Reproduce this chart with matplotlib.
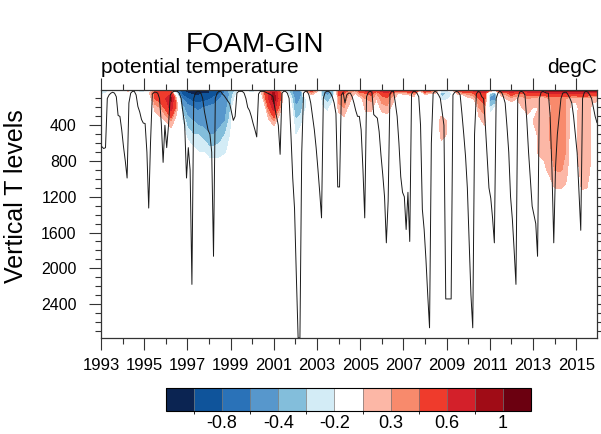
import numpy as np
import matplotlib
matplotlib.use("Agg")
import matplotlib.pyplot as plt
from matplotlib.colors import ListedColormap, BoundaryNorm
from matplotlib.ticker import MultipleLocator, FixedLocator

plt.rcParams['font.family'] = ['Liberation Sans', 'DejaVu Sans']

# ---------------- data ----------------
# monthly mixed-layer depth (m), Jan..Dec per line
mld_1990s = [
    640, 660, 650, 100, 60, 40, 30, 40, 80, 290, 300, 450,      # 1993
    640, 800, 990, 150, 40, 20, 20, 60, 190, 250, 335, 375,     # 1994
    380, 700, 1326, 600, 50, 30, 30, 40, 100, 380, 815, 400,    # 1995
    650, 400, 60, 30, 20, 20, 20, 40, 100, 250, 400, 990,       # 1996
    650, 900, 2180, 100, 40, 20, 20, 40, 100, 250, 350, 455,    # 1997
    500, 700, 1866, 100, 40, 20, 20, 50, 70, 100, 130, 160,     # 1998
    250, 345, 300, 40, 20, 20, 20, 40, 100, 200, 235, 300,      # 1999
]
mld_2000s = [
    380, 450, 530, 50, 20, 20, 20, 30, 40, 50, 60, 78,          # 2000
    200, 300, 400, 725, 40, 20, 20, 40, 100, 500, 990, 1330,    # 2001
    2080, 2780, 2780, 710, 40, 20, 20, 60, 150, 300, 450, 650,  # 2002
    890, 1150, 1436, 100, 30, 20, 20, 40, 80, 150, 270, 1090,   # 2003
    1090, 60, 30, 150, 60, 40, 40, 80, 150, 235, 300, 300,      # 2004
    450, 890, 1436, 80, 30, 20, 30, 280, 300, 320, 470, 730,    # 2005
    950, 1200, 1715, 1250, 50, 20, 20, 150, 300, 600, 975, 1150,  # 2006
    1200, 1566, 1150, 1700, 50, 20, 20, 40, 80, 400, 1340, 1566,  # 2007
    1900, 2300, 2666, 600, 40, 20, 30, 60, 100, 250, 400, 2343,   # 2008
    2343, 2343, 2343, 60, 30, 20, 30, 60, 270, 500, 750, 1100,    # 2009
]
mld_2010s = [
    1700, 2300, 2666, 500, 50, 20, 30, 80, 100, 400, 750, 1100,   # 2010
    1215, 1436, 1715, 100, 40, 20, 30, 80, 150, 410, 700, 1200,   # 2011
    1450, 1800, 2180, 100, 30, 20, 30, 60, 335, 700, 1000, 1305,  # 2012
    1400, 1500, 1866, 100, 30, 20, 30, 40, 40, 300, 900, 1715,    # 2013
    860, 500, 300, 100, 40, 30, 30, 60, 100, 150, 300, 500,       # 2014
    710, 1155, 1575, 100, 30, 20, 30, 60, 100, 200, 300, 370,     # 2015
]

# potential temperature anomaly (degC) at quarterly steps 1993.0 .. 2016.0
# (each line = 3 years, 4 values per year)
anom_depths = [5, 40, 100, 200, 350, 500, 700, 900, 1100, 1300]
anom_d5 = [-0.30, -0.25, -0.10, -0.25, -0.20, 0.35, -0.25, -0.30, -0.30, 0.10, 0.35, 0.50,
           0.30, 0.20, -0.50, -1.00, -1.10, -1.10, -1.10, -1.05, -1.00, -0.95, -0.90, -0.50,
           -0.30, -0.30, -0.10, -0.25, -0.30, -0.20, 0.25, 0.50, 0.60, 0.30, -0.20, -0.35,
           -0.45, -0.40, 0.30, 0.50, 0.30, -0.35, -0.40, -0.30, 0.50, 0.70, 0.35, 0.30,
           0.60, 0.70, 0.80, 0.50, 0.80, 0.90, 0.70, 0.50, 0.50, 0.70, 0.80, 0.30,
           0.60, 0.50, 0.40, -0.20, -0.20, 0.20, 0.50, 0.60, 0.60, 0.70, 0.80, 0.80,
           0.50, 0.30, 0.70, 0.80, 0.90, 0.80, 0.70, 0.80, 0.90, 0.90, 0.90, 1.00,
           1.00, 1.00, 1.00, 1.10, 1.10, 1.10, 1.10, 1.00, 1.00]
anom_d40 = [-0.25, -0.20, 0.0, -0.10, 0.0, 0.10, -0.10, -0.15, -0.20, 0.20, 0.45, 0.55,
            0.50, 0.55, -0.30, -0.90, -1.00, -1.05, -1.05, -1.00, -1.00, -0.90, -0.85, -0.55,
            -0.35, -0.25, 0.0, -0.15, -0.20, -0.10, 0.30, 0.60, 0.85, 0.50, -0.10, -0.30,
            -0.50, -0.45, 0.10, 0.30, 0.10, -0.40, -0.45, -0.35, 0.45, 0.40, 0.30, 0.20,
            0.35, 0.40, 0.45, 0.30, 0.45, 0.50, 0.35, 0.20, 0.25, 0.30, 0.35, -0.10,
            0.30, 0.20, 0.20, -0.35, -0.30, -0.20, 0.25, 0.30, 0.35, 0.40, 0.50, 0.55,
            -0.30, -0.40, 0.30, 0.35, 0.50, 0.40, 0.40, 0.50, 0.50, 0.50, 0.50, 0.60,
            0.60, 0.60, 0.60, 0.60, 0.60, 0.60, 0.60, 0.50, 0.50]
anom_d100 = [-0.10, 0.0, 0.0, 0.0, 0.0, 0.0, 0.0, 0.0, 0.0, 0.10, 0.40, 0.50,
             0.60, 0.85, 0.20, -0.60, -0.80, -0.90, -0.95, -0.90, -0.85, -0.75, -0.60, -0.50,
             -0.35, -0.15, 0.0, 0.0, -0.10, 0.0, 0.20, 0.60, 0.95, 0.50, 0.0, -0.20,
             -0.45, -0.40, -0.20, 0.0, 0.0, -0.30, -0.35, -0.25, 0.35, 0.35, 0.25, 0.10,
             0.15, 0.30, 0.32, 0.20, 0.35, 0.38, 0.25, 0.10, 0.0, 0.0, 0.10, 0.0,
             0.0, 0.0, 0.0, -0.30, -0.25, -0.15, 0.0, 0.0, 0.15, 0.20, 0.40, 0.50,
             -0.45, -0.45, 0.10, 0.20, 0.25, 0.20, 0.25, 0.30, 0.25, 0.22, 0.22, 0.30,
             0.32, 0.32, 0.30, 0.22, 0.22, 0.25, 0.25, 0.22, 0.22]
anom_d200 = [0.0, 0.0, 0.0, 0.0, 0.0, 0.0, 0.0, 0.0, 0.0, 0.0, 0.25, 0.30,
             0.45, 0.70, 0.30, -0.35, -0.50, -0.60, -0.65, -0.60, -0.55, -0.50, -0.50, -0.45,
             -0.30, 0.0, 0.0, 0.0, 0.0, 0.0, 0.0, 0.40, 0.70, 0.35, 0.0, -0.10,
             -0.40, -0.35, -0.20, 0.0, 0.0, -0.20, -0.25, -0.10, 0.25, 0.30, 0.15, 0.0,
             0.0, 0.25, 0.25, 0.10, 0.25, 0.28, 0.15, 0.0, 0.0, 0.0, 0.0, 0.0,
             0.0, 0.0, 0.0, 0.10, 0.05, 0.0, 0.0, 0.0, 0.0, 0.0, 0.30, 0.35,
             -0.30, -0.20, 0.0, 0.10, 0.10, 0.15, 0.20, 0.25, 0.20, 0.20, 0.20, 0.28,
             0.32, 0.33, 0.30, 0.18, 0.18, 0.24, 0.24, 0.18, 0.15]
anom_d350 = [0.0, 0.0, 0.0, 0.0, 0.0, 0.0, 0.0, 0.0, 0.0, 0.0, 0.10, 0.15,
             0.20, 0.30, 0.10, -0.20, -0.35, -0.40, -0.45, -0.45, -0.45, -0.45, -0.45, -0.40,
             -0.25, 0.0, 0.0, 0.0, 0.0, 0.0, 0.0, 0.15, 0.30, 0.10, 0.0, 0.0,
             -0.30, -0.25, -0.10, 0.0, 0.0, 0.0, -0.10, 0.0, 0.10, 0.15, 0.0, 0.0,
             0.0, 0.10, 0.10, 0.0, 0.10, 0.10, 0.0, 0.0, 0.0, 0.0, 0.0, 0.0,
             0.0, 0.0, 0.10, 0.25, 0.20, 0.0, 0.0, 0.0, 0.0, 0.0, 0.15, 0.25,
             -0.10, 0.0, 0.0, 0.15, 0.0, 0.10, 0.15, 0.15, 0.20, 0.23, 0.24, 0.30,
             0.33, 0.34, 0.31, 0.16, 0.18, 0.25, 0.25, 0.18, 0.15]
anom_d500 = [0.0, 0.0, 0.0, 0.0, 0.0, 0.0, 0.0, 0.0, 0.0, 0.0, 0.0, 0.0,
             0.0, 0.10, 0.0, -0.10, -0.25, -0.30, -0.30, -0.35, -0.40, -0.40, -0.35, -0.30,
             -0.20, 0.0, 0.0, 0.0, 0.0, 0.0, 0.0, 0.0, 0.0, 0.0, 0.0, 0.0,
             -0.22, -0.15, 0.0, 0.0, 0.0, 0.0, 0.0, 0.0, 0.0, 0.0, 0.0, 0.0,
             0.0, 0.0, 0.0, 0.0, 0.0, 0.0, 0.0, 0.0, 0.0, 0.0, 0.0, 0.0,
             0.0, 0.0, 0.0, 0.25, 0.20, 0.0, 0.0, 0.0, 0.0, 0.0, 0.0, 0.10,
             0.0, 0.0, 0.0, 0.0, 0.0, 0.0, 0.0, 0.0, 0.12, 0.23, 0.25, 0.30,
             0.34, 0.34, 0.31, 0.15, 0.18, 0.25, 0.25, 0.18, 0.15]
anom_d700 = [0.0, 0.0, 0.0, 0.0, 0.0, 0.0, 0.0, 0.0, 0.0, 0.0, 0.0, 0.0,
             0.0, 0.0, 0.0, 0.0, -0.10, -0.15, -0.20, -0.20, -0.25, -0.25, -0.25, -0.22,
             -0.15, 0.0, 0.0, 0.0, 0.0, 0.0, 0.0, 0.0, 0.0, 0.0, 0.0, 0.0,
             -0.10, 0.0, 0.0, 0.0, 0.0, 0.0, 0.0, 0.0, 0.0, 0.0, 0.0, 0.0,
             0.0, 0.0, 0.0, 0.0, 0.0, 0.0, 0.0, 0.0, 0.0, 0.0, 0.0, 0.0,
             0.0, 0.0, 0.0, 0.10, 0.05, 0.0, 0.0, 0.0, 0.0, 0.0, 0.0, 0.0,
             0.0, 0.0, 0.0, 0.0, 0.0, 0.0, 0.0, 0.0, 0.08, 0.22, 0.24, 0.28,
             0.33, 0.33, 0.30, 0.12, 0.18, 0.25, 0.25, 0.18, 0.15]
anom_d900 = [0.0, 0.0, 0.0, 0.0, 0.0, 0.0, 0.0, 0.0, 0.0, 0.0, 0.0, 0.0,
             0.0, 0.0, 0.0, 0.0, 0.0, 0.0, 0.0, 0.0, -0.10, -0.10, -0.10, -0.05,
             0.0, 0.0, 0.0, 0.0, 0.0, 0.0, 0.0, 0.0, 0.0, 0.0, 0.0, 0.0,
             0.0, 0.0, 0.0, 0.0, 0.0, 0.0, 0.0, 0.0, 0.0, 0.0, 0.0, 0.0,
             0.0, 0.0, 0.0, 0.0, 0.0, 0.0, 0.0, 0.0, 0.0, 0.0, 0.0, 0.0,
             0.0, 0.0, 0.0, 0.0, 0.0, 0.0, 0.0, 0.0, 0.0, 0.0, 0.0, 0.0,
             0.0, 0.0, 0.0, 0.0, 0.0, 0.0, 0.0, 0.0, 0.0, 0.10, 0.15, 0.24,
             0.30, 0.31, 0.28, 0.10, 0.15, 0.24, 0.23, 0.17, 0.14]
anom_d1100 = [0.0] * 80 + [0.0, 0.0, 0.0, 0.10,
                          0.20, 0.21, 0.18, 0.0, 0.10, 0.21, 0.20, 0.12, 0.10]
anom_d1300 = [0.0] * 88 + [0.0, 0.10, 0.05, 0.0, 0.0]

levels = [-1, -0.8, -0.6, -0.4, -0.3, -0.2, 0.2, 0.3, 0.4, 0.6, 0.8, 1]
cbar_colors = ['#0b2452', '#0f549b', '#2a72b8', '#5797cc', '#83bedb', '#d3ecf6',
               '#ffffff', '#fcb7a6', '#f88a6c', '#ef3b2c', '#d3202a', '#a00c16', '#6b0010']
cbar_ticks = [-0.8, -0.4, -0.2, 0.3, 0.6, 1]
cbar_ticklabels = ['-0.8', '-0.4', '-0.2', '0.3', '0.6', '1']
xtick_years = list(range(1993, 2016, 2))
ytick_depths = [400, 800, 1200, 1600, 2000, 2400]

# ---------------- figure ----------------
W, H = 601, 434
fig = plt.figure(figsize=(W / 100, H / 100), dpi=100)
ax = fig.add_axes([101 / W, 1 - 338 / H, 496 / W, 248 / H])

mld = np.array(mld_1990s + mld_2000s + mld_2010s, dtype=float)
mld_times = 1993 + (np.arange(len(mld)) + 0.5) / 12.0

anom = np.array([anom_d5, anom_d40, anom_d100, anom_d200, anom_d350,
                 anom_d500, anom_d700, anom_d900, anom_d1100, anom_d1300])
anom_times = 1993.0 + 0.25 * np.arange(anom.shape[1])

cmap = ListedColormap(cbar_colors[1:-1])
cmap.set_under(cbar_colors[0])
cmap.set_over(cbar_colors[-1])
norm = BoundaryNorm(levels, cmap.N)

cs = ax.contourf(anom_times, anom_depths, anom, levels=levels, cmap=cmap,
                 norm=norm, extend='both', zorder=1)
ax.plot(mld_times, mld, color='#1a1a1a', lw=0.7, zorder=3)

ax.set_xlim(1993.0, 2015.96)
ax.set_ylim(2780, 5)

ax.xaxis.set_major_locator(FixedLocator(xtick_years))
ax.xaxis.set_minor_locator(MultipleLocator(1))
ax.set_xticklabels([str(y) for y in xtick_years])
ax.yaxis.set_major_locator(FixedLocator(ytick_depths))
ax.yaxis.set_minor_locator(MultipleLocator(100))
ax.set_yticklabels([str(d) for d in ytick_depths])

ax.tick_params(which='both', direction='out', top=True, right=True,
               width=0.8, color='#333333')
ax.tick_params(which='major', length=8.5, labelsize=11.5)
ax.tick_params(which='minor', length=4)
ax.xaxis.set_tick_params(which='major', labelsize=12, pad=6)
ax.yaxis.set_tick_params(which='major', pad=9)
for s in ax.spines.values():
    s.set_linewidth(0.9)
    s.set_color('#333333')

ax.set_ylabel('Vertical T levels', fontsize=18)
ax.yaxis.set_label_coords((28 - 101) / 496, (338 - 196) / 248)

fig.text(255 / W, 1 - 45 / H, 'FOAM-GIN', ha='center', va='center', fontsize=20)
fig.text(101 / W, 1 - 73 / H, 'potential temperature', ha='left',
         va='baseline', fontsize=15)
fig.text(597 / W, 1 - 73 / H, 'degC', ha='right', va='baseline', fontsize=15)

cax = fig.add_axes([166 / W, 1 - 411 / H, 365 / W, 23 / H])
cb = fig.colorbar(cs, cax=cax, orientation='horizontal', extendrect=True,
                  extendfrac='auto', drawedges=True, ticks=cbar_ticks)
cb.set_ticklabels(cbar_ticklabels)
cb.ax.tick_params(length=0, labelsize=13, pad=3)
cb.outline.set_linewidth(0.8)
cb.dividers.set_color('#777777')
cb.dividers.set_linewidth(0.5)

fig.savefig('out.png', dpi=100)
